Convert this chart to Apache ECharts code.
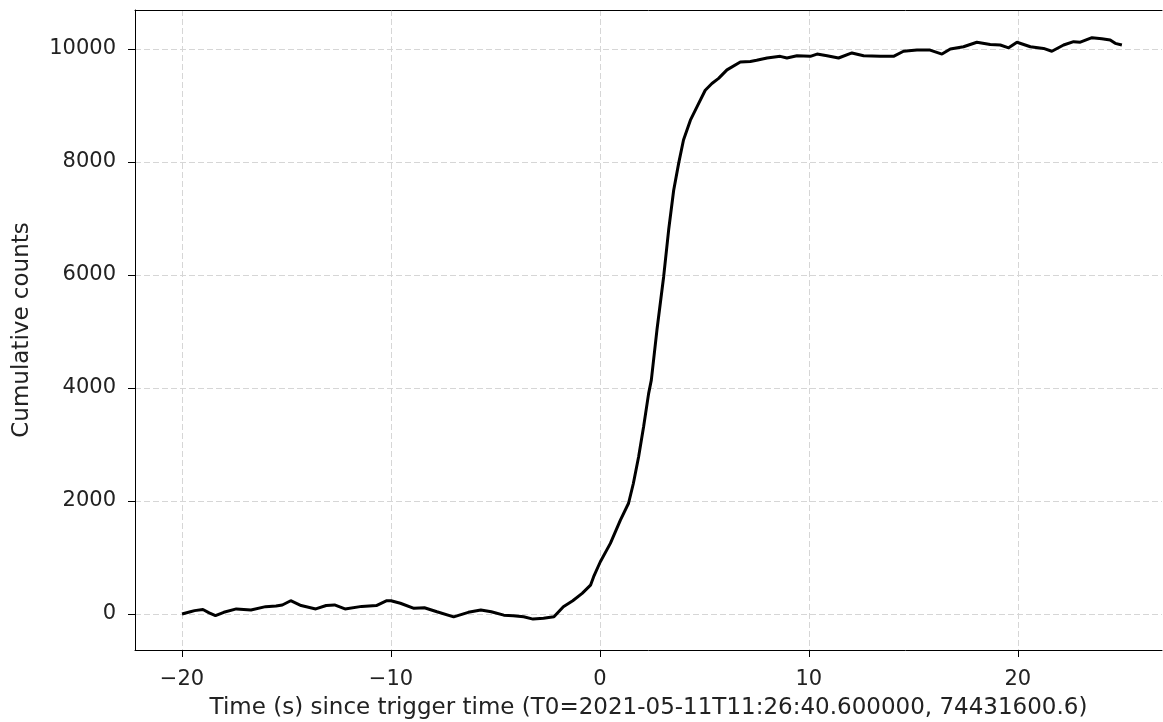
<!DOCTYPE html>
<html>
<head>
<meta charset="utf-8">
<script src="https://cdn.jsdelivr.net/npm/echarts@6/dist/echarts.min.js"></script>
<style>html,body{margin:0;padding:0;background:#fff}#c{width:1163px;height:722px}</style>
</head>
<body>
<div id="c"></div>
<script>
const times = [-20.0,-19.6,-19.4,-19.0,-18.7,-18.4,-18.0,-17.4,-16.7,-16.0,-15.5,-15.2,-14.8,-14.3,-13.6,-13.1,-12.7,-12.2,-11.4,-10.7,-10.2,-10.0,-9.55,-8.9,-8.4,-7.8,-7.0,-6.3,-5.7,-5.2,-4.6,-4.15,-3.65,-3.2,-2.7,-2.2,-1.75,-1.3,-0.85,-0.45,-0.3,0.02,0.5,0.98,1.37,1.6,1.85,2.09,2.33,2.46,2.73,3.05,3.29,3.53,3.77,4.0,4.33,4.65,5.04,5.36,5.68,6.08,6.72,7.2,7.5,8.0,8.63,8.95,9.43,10.07,10.39,10.87,11.42,12.06,12.62,13.42,14.05,14.53,15.17,15.8,16.37,16.77,17.4,18.04,18.68,19.16,19.56,19.96,20.6,21.23,21.63,22.19,22.67,22.99,23.55,24.02,24.42,24.66,24.98];
const counts = [0,40,60,80,20,-30,30,90,70,130,140,160,235,150,90,150,160,90,135,150,235,235,190,100,110,40,-50,30,70,40,-20,-30,-50,-90,-75,-50,130,235,365,510,660,925,1250,1660,1960,2310,2780,3315,3900,4140,5030,5970,6800,7500,7980,8390,8740,8980,9270,9390,9480,9630,9770,9780,9800,9840,9870,9840,9880,9870,9910,9880,9840,9930,9880,9870,9870,9960,9980,9980,9910,10000,10040,10120,10080,10070,10020,10120,10040,10010,9960,10070,10130,10120,10200,10180,10160,10100,10070];
const xTicks = [-20,-10,0,10,20];
const yTicks = [0,2000,4000,6000,8000,10000];
const xLabel = 'Time (s) since trigger time (T0=2021-05-11T11:26:40.600000, 74431600.6)';
const yLabel = 'Cumulative counts';

const data = times.map((t,i)=>[t,counts[i]]);
const font = 'DejaVu Sans';
const minus = v => String(v).replace('-', '\u2212');
const chart = echarts.init(document.getElementById('c'), null, {renderer:'canvas'});
const gridLine = {show:true, lineStyle:{color:'#d6d6d6', width:1, type:[6,3]}};
const xMin = -22.25, xMax = 26.9;
chart.setOption({
  animation:false,
  backgroundColor:'#fff',
  grid:{left:135, right:1, top:10, bottom:72, show:false, containLabel:false, outerBoundsMode:'none'},
  xAxis:[{
    type:'value', min:xMin, max:xMax,
    axisLine:{show:true, onZero:false, lineStyle:{color:'#000', width:1}},
    axisTick:{show:true, inside:false, length:7, lineStyle:{color:'#000', width:1}, customValues:xTicks},
    axisLabel:{show:true, customValues:xTicks, margin:19, fontFamily:font, fontSize:21, color:'#222', formatter:minus},
    splitLine:gridLine,
    name:xLabel, nameLocation:'middle', nameGap:47,
    nameTextStyle:{fontFamily:font, fontSize:23, color:'#222'}
  },{
    type:'value', position:'top', min:xMin, max:xMax,
    axisLine:{show:true, onZero:false, lineStyle:{color:'#000', width:1}},
    axisTick:{show:false}, axisLabel:{show:false}, splitLine:{show:false}
  }],
  yAxis:{
    type:'value', min:-637, max:10690,
    axisLine:{show:true, onZero:false, lineStyle:{color:'#000', width:1}},
    axisTick:{show:true, inside:false, length:7, lineStyle:{color:'#000', width:1}, customValues:yTicks},
    axisLabel:{show:true, customValues:yTicks, margin:19, fontFamily:font, fontSize:21, color:'#222', formatter:minus},
    splitLine:gridLine,
    name:yLabel, nameLocation:'middle', nameGap:101, nameRotate:90,
    nameTextStyle:{fontFamily:font, fontSize:23, color:'#222'}
  },
  series:[{
    type:'line', xAxisIndex:0, data:data, showSymbol:false, symbol:'none',
    lineStyle:{color:'#000', width:3}, smooth:false
  }]
});
</script>
</body>
</html>
